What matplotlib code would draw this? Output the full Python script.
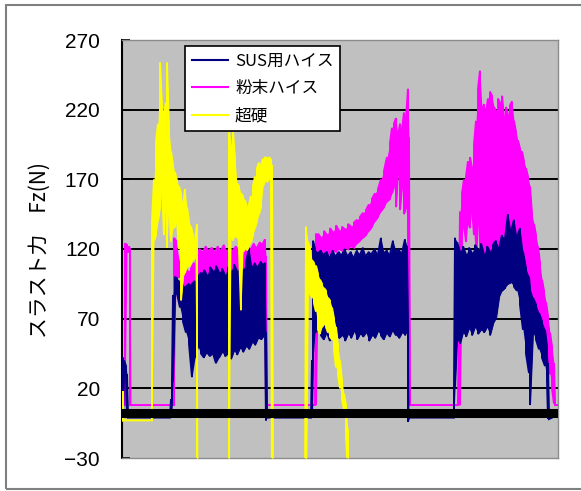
import matplotlib

matplotlib.use("Agg")
import matplotlib.pyplot as plt
from matplotlib.font_manager import FontProperties
from matplotlib.lines import Line2D
from matplotlib.patches import Rectangle


SERIES_NAMES = ["SUS用ハイス", "粉末ハイス", "超硬"]
SERIES_COLORS = ["#000080", "#FF00FF", "#FFFF00"]
Y_TICKS = [-30, 20, 70, 120, 170, 220, 270]
Y_LABEL = "スラスト力　Fz(N)"
ZERO_BAND = 2.5  # dense category-axis tick band near 0 N
T_MAX = 436

# each trace: sample position, lowest and highest value read at that position
SUS_T = [
    0, 1, 2, 4, 5, 6, 48, 49, 50, 51, 53,
    55, 58, 61, 64, 67, 70, 73, 76, 79, 82, 85, 88, 91, 94, 97, 100, 103, 106, 109, 112,
    115, 118, 121, 124, 127, 130, 133, 136, 139, 142, 143, 144, 145,
    189, 190, 191,
    193, 196, 199, 202, 205, 208, 211, 214, 217, 220, 223, 226, 229, 232, 235, 238, 241,
    244, 247, 250, 253, 256, 259, 262, 265, 268, 271, 274, 277, 280, 283, 285, 286, 287,
    331, 332, 333,
    335, 338, 341, 344, 347, 350, 353, 356, 359, 362, 365, 368, 371, 374, 377, 380, 383,
    386, 389, 392, 395, 398, 401, 404, 407, 408, 411, 414, 417, 420, 423, 425, 426, 427, 430,
]
SUS_LO = [
    -1, -1, 30, 28, -1, -1, -1, -1, 10, 25, 87,
    88, 78, 68, 60, 52, 28, 42, 50, 45, 42, 46, 43, 45, 38, 42, 46, 43, 45, 41, 47,
    44, 49, 46, 50, 48, 53, 51, 56, 55, 58, 60, -3, -1,
    -1, -1, 40,
    60, 62, 58, 55, 60, 54, 57, 60, 56, 58, 54, 59, 56, 61, 55, 59, 57,
    60, 54, 58, 56, 61, 58, 55, 60, 57, 62, 58, 56, 60, 58, 62, -4, -1,
    -1, -1, 20,
    55, 52, 60, 57, 63, 58, 64, 59, 62, 60, 64, 58, 66, 70, 85, 90, 92,
    95, 96, 93, 90, 80, 62, 45, 31, 8, 60, 55, 48, 42, 36, 26, -2, -2, -1,
]
SUS_HI = [
    -1, 42, 40, 36, 30, -1, -1, 12, 26, 87, 100,
    99, 97, 94, 93, 95, 95, 97, 100, 103, 105, 101, 107, 104, 108, 103, 106, 101, 107, 104, 109,
    104, 108, 105, 110, 121, 106, 110, 107, 111, 109, 110, 60, -1,
    -1, 40, 126,
    120, 117, 119, 116, 118, 114, 119, 115, 118, 116, 120, 115, 118, 114, 119, 116, 121,
    115, 118, 117, 120, 116, 128, 117, 119, 116, 126, 118, 120, 117, 127, 122, 62, -1,
    -1, 20, 128,
    125, 118, 122, 116, 121, 117, 123, 119, 124, 116, 122, 118, 123, 126, 120, 130, 127,
    145, 132, 141, 128, 135, 118, 106, 100, 92, 85, 80, 74, 68, 62, 50, 38, -1, -1,
]

POW_T = [
    0, 2, 3, 5, 7, 8, 9, 51, 52, 54,
    57, 60, 63, 66, 69, 72, 75, 78, 81, 84, 87, 90, 93, 96, 99, 102, 105, 108, 111, 114,
    117, 120, 123, 126, 129, 132, 135, 138, 141, 143, 144, 145,
    193, 194,
    196, 199, 202, 205, 208, 211, 214, 217, 220, 223, 226, 229, 232, 235, 238, 241, 244,
    247, 250, 253, 256, 259, 262, 265, 268, 270, 272, 274, 276, 278, 280, 282, 284, 286, 287, 288,
    336, 338,
    340, 342, 344, 346, 348, 350, 352, 354, 356, 358, 360, 362, 364, 366, 368, 370, 372,
    374, 376, 378, 380, 382, 384, 386, 388, 390, 392, 394, 396, 398, 400, 402, 404, 406,
    408, 410, 412, 414, 416, 418, 420, 422, 424, 426, 428, 430, 432, 433, 436,
]
POW_LO = [
    8, 8, 8, 118, 118, 8, 8, 8, 8, 100,
    100, 96, 90, 88, 90, 95, 100, 102, 102, 100, 103, 101, 104, 100, 103, 101, 104, 100, 105, 102,
    104, 101, 106, 103, 105, 104, 107, 105, 108, 110, 8, 8,
    8, 8,
    115, 116, 117, 118, 116, 119, 118, 120, 119, 121, 120, 122, 121, 124, 126, 128, 130,
    133, 136, 140, 143, 147, 150, 154, 156, 160, 165, 150, 175, 148, 165, 145, 150, 130, 8, 8,
    8, 8,
    130, 138, 125, 140, 135, 150, 130, 110, 140, 95, 120, 100, 125, 92, 115, 100, 125,
    98, 118, 105, 122, 100, 120, 108, 125, 112, 120, 108, 118, 105, 110, 100, 105, 95,
    90, 85, 80, 74, 68, 62, 56, 50, 45, 38, 30, 20, 9, 8, 8,
]
POW_HI = [
    8, 8, 124, 123, 122, 120, 8, 8, 128, 126,
    112, 108, 106, 104, 106, 110, 118, 120, 118, 122, 119, 121, 118, 122, 119, 123, 118, 121, 119, 122,
    120, 123, 119, 122, 120, 124, 121, 125, 124, 127, 115, 8,
    8, 131,
    131, 128, 133, 130, 135, 132, 137, 133, 136, 134, 138, 136, 139, 141, 143, 146, 148,
    152, 156, 160, 163, 170, 176, 186, 196, 207, 210, 214, 200, 210, 205, 218, 214, 235, 200, 8,
    8, 147,
    160, 170, 172, 183, 186, 178, 195, 212, 235, 248, 220, 224, 218, 228, 233, 230, 222,
    219, 228, 225, 230, 214, 222, 216, 223, 226, 212, 204, 198, 192, 190, 183, 178, 172,
    165, 145, 138, 130, 122, 110, 98, 90, 82, 72, 60, 50, 38, 9, 8,
]

CARB_T = [
    0, 1, 2, 29, 30,
    32, 34, 36, 38, 40, 42, 44, 45, 47, 49, 51, 53, 55, 57, 59, 61, 63, 65, 67, 69, 71, 73, 75, 76,
    106, 107,
    109, 111, 113, 115, 117, 119, 121, 123, 125, 127, 129, 131, 133, 135, 137, 139, 141, 143,
    145, 147, 149, 150, 151,
    183, 184,
    186, 188, 190, 192, 194, 196, 198, 200, 202, 204, 206, 208, 210, 212, 214, 216, 218, 220,
    222, 224, 226,
]
CARB_LO = [
    -3, -3, -3, -3, -3,
    126, 130, 140, 150, 165, 130, 160, 121, 155, 125, 135, 136, 140, 120, 83, 100, 103, 108, 107,
    110, 112, 114, -60, -60,
    -60, -60,
    130, 126, 130, 128, 120, 76, 118, 120, 119, 122, 125, 130, 135, 140, 145, 150, 165, 169,
    168, 170, 172, -60, -60,
    -60, -60,
    100, 88, 85, 81, 75, 62, 59, 64, 66, 64, 60, 57, 55, 48, 35, 30, 20, 12,
    5, -15, -40,
]
CARB_HI = [
    -3, 18, -3, -3, 140,
    170, 197, 210, 254, 222, 218, 225, 254, 205, 190, 180, 175, 169, 165, 160, 150, 163, 150, 140,
    136, 130, 126, 138, -60,
    -60, 204,
    193, 204, 185, 167, 165, 160, 158, 155, 150, 152, 158, 165, 172, 178, 182, 180, 185, 186,
    185, 186, 184, 180, -60,
    -60, 136,
    125, 121, 112, 110, 108, 102, 98, 95, 92, 90, 85, 83, 78, 70, 64, 50, 40, 25,
    16, 8, -10,
]

CJK = ["Noto Sans CJK JP", "DejaVu Sans"]


def zigzag(t, lo, hi):
    # sweep each sample from its low to its high value, alternating direction,
    # the way a dense signal fills its band on screen
    xs, ys = [], []
    for i, (x, a, b) in enumerate(zip(t, lo, hi)):
        xs += [x, x]
        ys += [a, b] if i % 2 == 0 else [b, a]
    return xs, ys


def main() -> None:
    fig = plt.figure(figsize=(5.81, 4.91), dpi=100)
    fig.patch.set_facecolor("white")
    fig.patches.append(
        Rectangle((6 / 581, 2 / 491), 1.2, 484 / 491, transform=fig.transFigure,
                  fill=False, edgecolor="#808080", linewidth=1.5)
    )

    ax = fig.add_axes([122 / 581, 33 / 491, 436 / 581, 418 / 491])
    ax.set_facecolor("#C0C0C0")

    traces = [
        (SUS_T, SUS_LO, SUS_HI, 3),
        (POW_T, POW_LO, POW_HI, 2),
        (CARB_T, CARB_LO, CARB_HI, 4),
    ]
    for (t, lo, hi, z), color in zip(traces, SERIES_COLORS):
        ax.fill_between(t, lo, hi, color=color, linewidth=0, zorder=z)
        xs, ys = zigzag(t, lo, hi)
        ax.plot(xs, ys, color=color, linewidth=1.4, solid_joinstyle="miter", zorder=z)

    ax.axhline(ZERO_BAND, color="black", linewidth=6.5, zorder=5)

    ax.set_xlim(0, T_MAX)
    ax.set_ylim(Y_TICKS[0], Y_TICKS[-1])
    ax.set_xticks([])
    ax.set_yticks(Y_TICKS)
    ax.set_yticklabels([f"{v}".replace("-", "\u2212") for v in Y_TICKS],
                       fontfamily="Liberation Sans", fontsize=15)
    ax.tick_params(axis="y", direction="in", length=6, width=1.3, color="black", pad=16)
    ax.yaxis.grid(True, color="black", linewidth=1.4)
    ax.set_axisbelow(True)
    grid = ax.get_ygridlines()
    grid[0].set_visible(False)
    grid[-1].set_visible(False)

    for side in ["top", "right", "bottom"]:
        ax.spines[side].set_color("#8C8C8C")
        ax.spines[side].set_linewidth(1.0)
    ax.spines["left"].set_color("black")
    ax.spines["left"].set_linewidth(1.5)

    fig.text(40 / 581, 1 - 250 / 491, Y_LABEL, rotation=90, ha="center", va="center",
             fontsize=15, family=CJK)

    handles = [Line2D([0], [0], color=c, linewidth=1.5) for c in SERIES_COLORS]
    leg = ax.legend(
        handles, SERIES_NAMES, loc="upper left",
        bbox_to_anchor=(63 / 436, 412 / 418), borderaxespad=0,
        prop=FontProperties(family=CJK, size=12),
        frameon=True, fancybox=False, framealpha=1, facecolor="white", edgecolor="black",
        handlelength=2.2, handletextpad=0.4, labelspacing=0.62, borderpad=0.4,
    )
    leg.get_frame().set_linewidth(1.2)
    leg.set_zorder(10)

    fig.savefig("out.png", dpi=100, facecolor="white")
    plt.close(fig)


if __name__ == "__main__":
    main()
